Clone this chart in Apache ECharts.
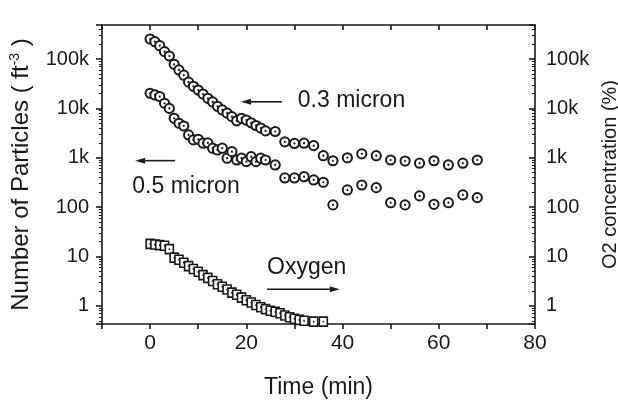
<!DOCTYPE html>
<html>
<head>
<meta charset="utf-8">
<script src="https://cdn.jsdelivr.net/npm/echarts@6/dist/echarts.min.js"></script>
<style>
  html, body { margin: 0; padding: 0; background: #fff; }
  #chart { width: 618px; height: 400px; }
</style>
</head>
<body>
<div id="chart"></div>
<script>
// time (min) for the particle counts
var time03 = [0,1,2,3,4,5,6,7,8,9,10,11,12,13,14,15,16,17,18,19,20,21,22,23,24,
              26,28,30,32,34,36,38,41,44,47,50,53,56,59,62,65,68];
// 0.3 micron particles (ft^-3)
var p03 = [254000,224000,186000,141000,115000,78000,60000,47000,34000,28000,23500,19500,16000,13500,11000,
           9300,8000,6800,5600,6300,5800,5100,4500,4000,3500,
           3400,2100,1950,1970,1760,1100,870,1000,1200,1100,900,860,775,870,715,775,900];
// 0.5 micron particles (ft^-3)
var p05 = [20200,18700,17300,12700,10000,6300,5000,4400,2900,2300,2370,1970,2000,1560,1440,
           1560,980,1330,900,980,834,1050,834,980,900,
           715,390,390,414,355,319,111,223,281,248,123,111,169,114,123,177,156];
// oxygen concentration (%)
var timeO2 = [0,1,2,3,4,5,6,7,8,9,10,11,12,13,14,15,16,17,18,19,20,21,22,23,24,25,26,27,28,29,30,31,32,34,36];
var o2 = [18,17.5,17,16.5,14.1,9.5,8.6,7.5,6.4,5.6,4.9,4.2,3.7,3.2,2.75,2.45,2.15,1.86,1.68,1.47,
          1.3,1.17,1.04,0.94,0.86,0.8,0.76,0.71,0.64,0.59,0.55,0.52,0.5,0.48,0.48];

var yTicks = [1, 10, 100, 1000, 10000, 100000];

var notes = [
  { text: '0.3 micron', at: [30.7, 14100] },
  { text: '0.5 micron', at: [-3.7, 256] },
  { text: 'Oxygen', at: [24.3, 5.9] }
];
var arrows = [
  { from: [27.4, 13600], to: [18.9, 13600] },
  { from: [5.2, 874], to: [-3.1, 874] },
  { from: [24.3, 2.18], to: [39.4, 2.18] }
];

var ink = '#1a1a1a';
var fontFam = '"Liberation Sans", Arial, sans-serif';

function pairs(xs, ys) {
  return xs.map(function (x, i) { return [x, ys[i]]; });
}

function fmtLog(v) {
  var r = Math.round(v);
  if (yTicks.indexOf(r) < 0 || Math.abs(v - r) > 1e-6 * r) return '';
  return r >= 1000 ? (r / 1000) + 'k' : String(r);
}

function circleItem(params, api) {
  var p = api.coord([api.value(0), api.value(1)]);
  return {
    type: 'group',
    children: [
      { type: 'circle', shape: { cx: p[0], cy: p[1], r: 4.6 },
        style: { fill: '#fff', stroke: ink, lineWidth: 2 } },
      { type: 'circle', shape: { cx: p[0], cy: p[1], r: 1.1 },
        style: { fill: ink } }
    ]
  };
}

function squareItem(params, api) {
  var p = api.coord([api.value(0), api.value(1)]);
  return {
    type: 'group',
    children: [
      { type: 'rect', shape: { x: p[0] - 4, y: p[1] - 4.5, width: 8, height: 9 },
        style: { fill: '#fff', stroke: ink, lineWidth: 1.6 } },
      { type: 'circle', shape: { cx: p[0], cy: p[1], r: 0.9 },
        style: { fill: ink } }
    ]
  };
}

var lineStyle = { color: ink, width: 1.6 };

function xAxisCfg(top) {
  return {
    type: 'value', min: -10, max: 80, interval: 10,
    position: top ? 'top' : 'bottom',
    axisLine: { onZero: false, lineStyle: lineStyle },
    axisTick: { inside: top, length: 5, lineStyle: lineStyle },
    axisLabel: {
      show: !top, margin: 9, color: ink, fontSize: 21, fontFamily: fontFam,
      formatter: function (v) { return v % 20 === 0 ? String(v) : ''; }
    },
    splitLine: { show: false },
    name: top ? '' : 'Time (min)',
    nameLocation: 'middle', nameGap: 52,
    nameTextStyle: { color: ink, fontSize: 23, fontFamily: fontFam }
  };
}

function yAxisCfg(right) {
  return {
    type: 'log', logBase: 10, min: 0.43, max: 488000,
    position: right ? 'right' : 'left',
    axisLine: { onZero: false, lineStyle: lineStyle },
    axisTick: { inside: right, length: 6, lineStyle: lineStyle },
    minorTick: { show: true, splitNumber: 9, length: 3, lineStyle: { color: ink, width: 1 } },
    axisLabel: {
      margin: right ? 11 : 13, color: ink, fontSize: 20, fontFamily: fontFam,
      showMinLabel: false, showMaxLabel: false, formatter: fmtLog
    },
    splitLine: { show: false },
    minorSplitLine: { show: false },
    name: right ? 'O2 concentration (%)' : 'Number of Particles ( ft{sup|-3} )',
    nameLocation: 'middle', nameRotate: 90,
    nameGap: right ? 60 : 68,
    nameTextStyle: {
      color: ink, fontSize: right ? 20 : 24, fontFamily: fontFam,
      rich: { sup: { fontSize: 14, fontFamily: fontFam, color: ink, verticalAlign: 'top', padding: [0, 0, 12, 0] } }
    }
  };
}

var chart = echarts.init(document.getElementById('chart'));
chart.setOption({
  animation: false,
  backgroundColor: '#fff',
  grid: { left: 102, right: 83, top: 25, bottom: 76, containLabel: false, outerBoundsMode: 'none' },
  xAxis: [xAxisCfg(false), xAxisCfg(true)],
  yAxis: [yAxisCfg(false), yAxisCfg(true)],
  series: [
    { name: '0.3 micron', type: 'custom', renderItem: circleItem, data: pairs(time03, p03), encode: { x: 0, y: 1 } },
    { name: '0.5 micron', type: 'custom', renderItem: circleItem, data: pairs(time03, p05), encode: { x: 0, y: 1 } },
    { name: 'Oxygen', type: 'custom', renderItem: squareItem, data: pairs(timeO2, o2), encode: { x: 0, y: 1 } }
  ]
});

// annotations placed in data coordinates
var toPx = function (pt) { return chart.convertToPixel({ xAxisIndex: 0, yAxisIndex: 0 }, pt); };
var elems = [];
notes.forEach(function (n) {
  var p = toPx(n.at);
  elems.push({
    type: 'text', x: p[0], y: p[1],
    style: { text: n.text, fill: ink, fontSize: 23, fontFamily: fontFam, align: 'left', verticalAlign: 'middle' }
  });
});
arrows.forEach(function (a) {
  var p0 = toPx(a.from), p1 = toPx(a.to);
  var dx = p1[0] - p0[0], dy = p1[1] - p0[1];
  var len = Math.sqrt(dx * dx + dy * dy);
  var ux = dx / len, uy = dy / len;
  var bx = p1[0] - ux * 10, by = p1[1] - uy * 10;
  elems.push({
    type: 'line', shape: { x1: p0[0], y1: p0[1], x2: bx, y2: by },
    style: { stroke: ink, lineWidth: 1.6 }
  });
  elems.push({
    type: 'polygon',
    shape: { points: [[p1[0], p1[1]], [bx - uy * 3, by + ux * 3], [bx + uy * 3, by - ux * 3]] },
    style: { fill: ink }
  });
});
chart.setOption({ graphic: elems });
</script>
</body>
</html>
